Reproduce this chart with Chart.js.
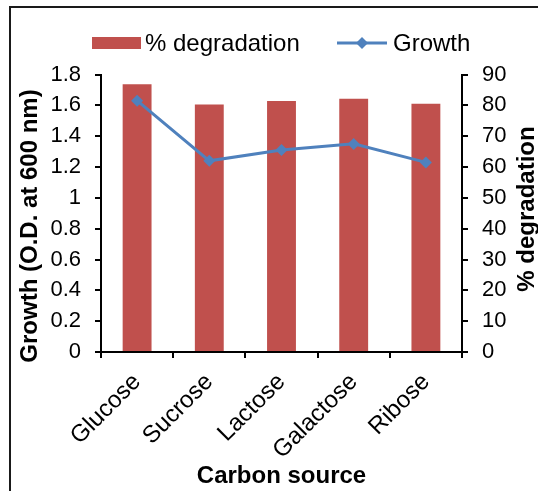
<!DOCTYPE html>
<html>
<head>
<meta charset="utf-8">
<script src="https://cdn.jsdelivr.net/npm/chart.js@4"></script>
<style>
  html, body { margin: 0; padding: 0; background: #fff; }
  #wrap { width: 538px; height: 491px; }
</style>
</head>
<body>
<div id="wrap"><canvas id="c" width="538" height="491"></canvas></div>
<script>
// Carbon sources tested
const categories = ['Glucose', 'Sucrose', 'Lactose', 'Galactose', 'Ribose'];
// Growth, O.D. at 600 nm (left axis)
const growth = [1.63, 1.24, 1.31, 1.35, 1.23];
// Percentage degradation (right axis)
const degradation = [86.8, 80.3, 81.4, 82.1, 80.5];
// Axis tick labels
const growthTicks = ['0', '0.2', '0.4', '0.6', '0.8', '1', '1.2', '1.4', '1.6', '1.8'];
const degradationTicks = ['0', '10', '20', '30', '40', '50', '60', '70', '80', '90'];

const RED = '#C0504D';
const BLUE = '#4F81BD';
const FONT = '"Liberation Sans", Arial, sans-serif';

// Outer frame, side titles and legend row
const decorations = {
  id: 'decorations',
  beforeDraw(chart) {
    const ctx = chart.ctx;
    ctx.save();
    ctx.strokeStyle = '#1a1a1a';
    ctx.lineWidth = 2;
    ctx.beginPath();
    ctx.moveTo(10, 600);
    ctx.lineTo(10, 7);
    ctx.lineTo(600, 7);
    ctx.stroke();
    ctx.restore();
  },
  afterDraw(chart) {
    const ctx = chart.ctx;
    const ds = chart.data.datasets;
    ctx.save();
    // side titles, reading bottom to top
    ctx.fillStyle = '#000';
    ctx.font = 'bold 24px ' + FONT;
    ctx.textAlign = 'center';
    ctx.textBaseline = 'alphabetic';
    ctx.save();
    ctx.translate(37, 226);
    ctx.rotate(-Math.PI / 2);
    ctx.fillText('Growth (O.D. at 600 nm)', 0, 0);
    ctx.restore();
    ctx.save();
    ctx.translate(534, 209);
    ctx.rotate(-Math.PI / 2);
    ctx.fillText('% degradation', 0, 0);
    ctx.restore();

    // legend
    const cy = 43;
    ctx.font = '24px ' + FONT;
    ctx.textAlign = 'left';
    ctx.textBaseline = 'middle';
    ctx.fillStyle = ds[1].backgroundColor;
    ctx.fillRect(92, cy - 6, 49, 12);
    ctx.fillStyle = '#000';
    ctx.fillText(ds[1].label, 145, cy + 1);

    ctx.strokeStyle = ds[0].borderColor;
    ctx.lineWidth = 3;
    ctx.beginPath();
    ctx.moveTo(337, cy);
    ctx.lineTo(387, cy);
    ctx.stroke();
    ctx.fillStyle = ds[0].pointBackgroundColor;
    ctx.beginPath();
    ctx.moveTo(362, cy - 6);
    ctx.lineTo(368, cy);
    ctx.lineTo(362, cy + 6);
    ctx.lineTo(356, cy);
    ctx.closePath();
    ctx.fill();
    ctx.fillStyle = '#000';
    ctx.fillText(ds[0].label, 393, cy + 1);
    ctx.restore();
  }
};

new Chart(document.getElementById('c'), {
  type: 'bar',
  data: {
    labels: categories,
    datasets: [
      {
        type: 'line',
        label: 'Growth',
        data: growth,
        yAxisID: 'yGrowth',
        borderColor: BLUE,
        borderWidth: 3,
        backgroundColor: BLUE,
        pointBackgroundColor: BLUE,
        pointBorderColor: BLUE,
        pointStyle: 'rectRot',
        pointRadius: 6,
        pointBorderWidth: 0,
        tension: 0,
        order: 1
      },
      {
        type: 'bar',
        label: '% degradation',
        data: degradation,
        yAxisID: 'yDeg',
        backgroundColor: RED,
        borderWidth: 0,
        barPercentage: 0.4,
        categoryPercentage: 1.0,
        order: 2
      }
    ]
  },
  options: {
    responsive: false,
    animation: false,
    devicePixelRatio: 1,
    layout: { padding: { top: 74.5, left: 0, right: 0, bottom: 0 } },
    plugins: {
      legend: { display: false },
      tooltip: { enabled: false }
    },
    scales: {
      x: {
        offset: true,
        grid: { offset: true, drawOnChartArea: false, drawTicks: true, tickLength: 6, color: '#000', lineWidth: 2 },
        border: { display: true, color: '#000', width: 2 },
        ticks: {
          color: '#000',
          font: { family: FONT, size: 24 },
          minRotation: 45,
          maxRotation: 45,
          padding: 10
        },
        title: {
          display: true,
          text: 'Carbon source',
          color: '#000',
          font: { family: FONT, size: 24, weight: 'bold' },
          padding: { top: 0, bottom: 0 }
        },
        afterFit(scale) { scale.height = 139; }
      },
      yGrowth: {
        position: 'left',
        min: 0,
        max: 1.8,
        grid: { drawOnChartArea: false, drawTicks: true, tickLength: 6, color: '#000', lineWidth: 2 },
        border: { display: true, color: '#000', width: 2 },
        ticks: {
          stepSize: 0.2,
          color: '#000',
          padding: 14,
          font: { family: FONT, size: 22 },
          callback: (v, i) => growthTicks[i]
        },
        afterFit(scale) { scale.width = 101; }
      },
      yDeg: {
        position: 'right',
        min: 0,
        max: 90,
        grid: { drawOnChartArea: false, drawTicks: true, tickLength: 6, color: '#000', lineWidth: 2 },
        border: { display: true, color: '#000', width: 2 },
        ticks: {
          stepSize: 10,
          color: '#000',
          padding: 14,
          font: { family: FONT, size: 22 },
          callback: (v, i) => degradationTicks[i]
        },
        afterFit(scale) { scale.width = 76; }
      }
    }
  },
  plugins: [decorations]
});
</script>
</body>
</html>
